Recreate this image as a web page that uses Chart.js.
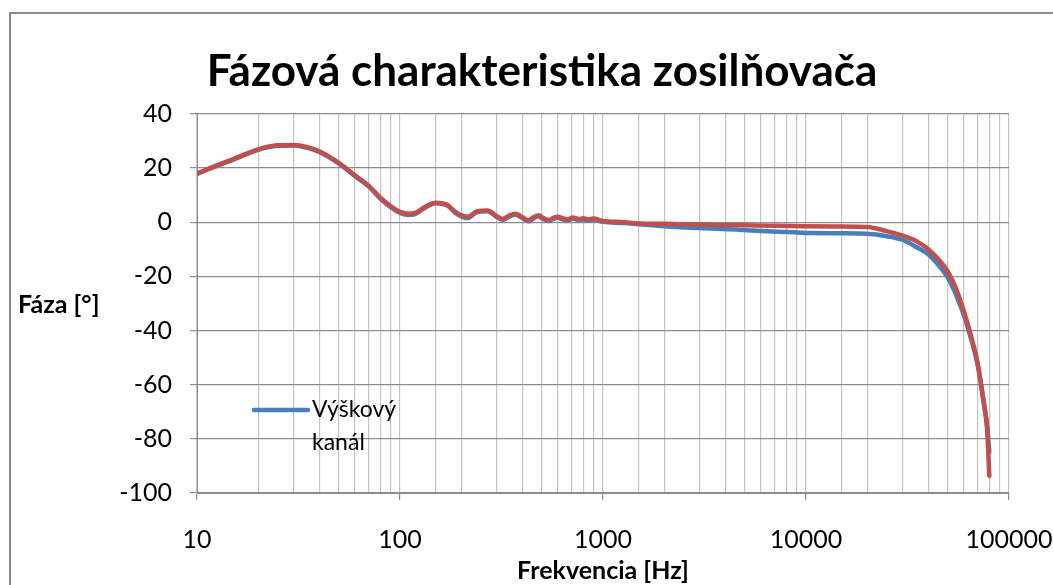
<!DOCTYPE html>
<html lang="sk">
<head>
<meta charset="utf-8">
<title>Fázová charakteristika zosilňovača</title>
<script src="https://cdn.jsdelivr.net/npm/chart.js@4.4.1/dist/chart.umd.min.js"></script>
<style>
  html, body { margin: 0; padding: 0; background: #fff; overflow: hidden; }
  #frame { position: absolute; left: 9px; top: 12px; width: 1100px; height: 700px; border: 2px solid #8c8c8c; }
  #wrap { position: absolute; left: 0; top: 0; width: 1053px; height: 585px; }
</style>
</head>
<body>
<div id="frame"></div>
<div id="wrap"><canvas id="phase-chart"></canvas></div>
<script>
// frekvencie merania [Hz]
const freqHz = [10, 12, 15, 20, 25, 30, 35, 40, 50, 60, 70, 80, 90, 100, 110, 120, 130, 150, 170, 190,
  215, 240, 270, 300, 320, 345, 370, 400, 430, 455, 480, 510, 540, 570, 600, 635, 670, 710, 760, 800,
  850, 900, 1000, 1270, 1500, 2000, 3000, 4500, 6500, 9500, 14000, 20000, 25000, 30000, 35000, 40000,
  45000, 50000, 55000, 60000, 65000, 70000, 75000, 78000, 80000];

// výškový kanál (modrá)
const phaseHigh = [17.8, 20.2, 23.0, 26.7, 28.2, 28.3, 27.4, 25.9, 21.6, 17.0, 13.2, 8.7, 5.5, 3.4, 2.6, 3.1, 4.9, 7.0, 6.2, 3.1,
  1.5, 3.7, 4.0, 1.8, 0.8, 2.0, 2.8, 1.5, 0.3, 1.4, 2.2, 1.1, 0.4, 1.2, 1.6, 1.0, 0.6, 1.3, 0.8, 1.0,
  0.6, 0.9, 0.1, -0.3, -0.8, -1.5, -2.2, -2.7, -3.4, -3.9, -4.1, -4.3, -5.2, -6.6, -9.2, -11.9,
  -15.9, -20.5, -27.0, -34.5, -43.0, -52.5, -66.0, -75.0, -85.0];

// druhý kanál (červená, bez legendy)
const phaseOther = [18.0, 20.4, 23.2, 26.9, 28.4, 28.5, 27.7, 26.2, 21.9, 17.3, 13.5, 9.0, 5.9, 3.8, 3.1, 3.5, 5.2, 7.2, 6.5, 3.5,
  2.0, 4.0, 4.3, 2.2, 1.2, 2.4, 3.1, 1.9, 0.7, 1.8, 2.5, 1.5, 0.8, 1.6, 2.0, 1.4, 1.0, 1.7, 1.2, 1.4,
  1.0, 1.3, 0.4, 0.0, -0.5, -0.6, -0.9, -1.1, -1.3, -1.5, -1.6, -1.8, -3.3, -5.0, -7.0, -10.0,
  -13.8, -18.3, -24.8, -33.0, -42.0, -51.9, -66.6, -76.5, -93.7];

const yTicks = [-100, -80, -60, -40, -20, 0, 20, 40];

const FONT = "Lato, 'Liberation Sans', sans-serif";
const GRID_H = "#8c8c8c";
const GRID_V = "#c4c4c4";

const toPoints = (vals) => vals.map((v, i) => ({ x: freqHz[i], y: v }));

function isDecade(v) {
  const l = Math.log10(v);
  return Math.abs(l - Math.round(l)) < 1e-9;
}

// popis osi Y vodorovne a legenda vnútri grafu (ako v Exceli)
const excelBits = {
  id: "excelBits",
  afterDatasetsDraw(chart) {
    const ctx = chart.ctx;
    const area = chart.chartArea;
    ctx.save();
    ctx.fillStyle = "#000";
    ctx.textBaseline = "middle";
    ctx.textAlign = "left";
    ctx.font = "bold 25px " + FONT;
    ctx.fillText("Fáza [°]", 18, 305);

    const ds = chart.data.datasets[1];
    const lx = area.left + 57;
    const ly = area.bottom - 83;
    ctx.strokeStyle = ds.borderColor;
    ctx.lineWidth = 4.5;
    ctx.lineCap = "round";
    ctx.beginPath();
    ctx.moveTo(lx, ly);
    ctx.lineTo(lx + 54, ly);
    ctx.stroke();
    ctx.font = "23px " + FONT;
    ds.label.split(" ").forEach((line, i) => ctx.fillText(line, lx + 58, ly + i * 33));
    ctx.restore();
  },
};

new Chart(document.getElementById("phase-chart"), {
  type: "line",
  data: {
    datasets: [
      {
        label: "Ľavý kanál",
        data: toPoints(phaseOther),
        borderColor: "#c0504d",
        order: 0,
      },
      {
        label: "Výškový kanál",
        data: toPoints(phaseHigh),
        borderColor: "#4a7ebb",
        order: 1,
      },
    ],
  },
  options: {
    responsive: true,
    maintainAspectRatio: false,
    animation: false,
    // ľavý okraj posúva nadpis na stred ako v origináli
    layout: { padding: { left: 75, right: 44, top: 0, bottom: 0 } },
    elements: {
      line: { borderWidth: 4.5, cubicInterpolationMode: "monotone", borderCapStyle: "round", borderJoinStyle: "round" },
      point: { radius: 0 },
    },
    plugins: {
      legend: { display: false },
      tooltip: { enabled: false },
      title: {
        display: true,
        text: "Fázová charakteristika zosilňovača",
        color: "#000",
        font: { family: FONT, size: 44, weight: "bold" },
        padding: { top: 45, bottom: 16 },
      },
    },
    scales: {
      x: {
        type: "logarithmic",
        min: 10,
        max: 100000,
        afterFit: (s) => { s.height = 92; s.paddingLeft = 0; s.paddingRight = 0; },
        border: { color: GRID_H, width: 1 },
        grid: {
          color: GRID_V,
          lineWidth: 1.2,
          tickLength: 7,
          tickColor: (c) => (c.tick && isDecade(c.tick.value) ? GRID_H : "rgba(0,0,0,0)"),
        },
        ticks: {
          autoSkip: false,
          maxRotation: 0,
          padding: 25,
          color: "#000",
          font: { family: FONT, size: 25 },
          callback: (v) => (isDecade(v) ? String(v) : ""),
        },
        title: {
          display: true,
          text: "Frekvencia [Hz]",
          color: "#000",
          font: { family: FONT, size: 25, weight: "bold" },
          padding: { top: 0, bottom: -1 },
        },
      },
      y: {
        min: -100,
        max: 40,
        afterFit: (s) => { s.width = 122; s.paddingTop = 0; s.paddingBottom = 0; },
        afterBuildTicks: (s) => { s.ticks = yTicks.map((v) => ({ value: v })); },
        border: { color: GRID_H, width: 1 },
        grid: { color: GRID_H, lineWidth: 1.2, tickLength: 7 },
        ticks: {
          padding: 18,
          color: "#000",
          font: { family: FONT, size: 25 },
        },
      },
    },
  },
  plugins: [excelBits],
});
</script>
</body>
</html>
